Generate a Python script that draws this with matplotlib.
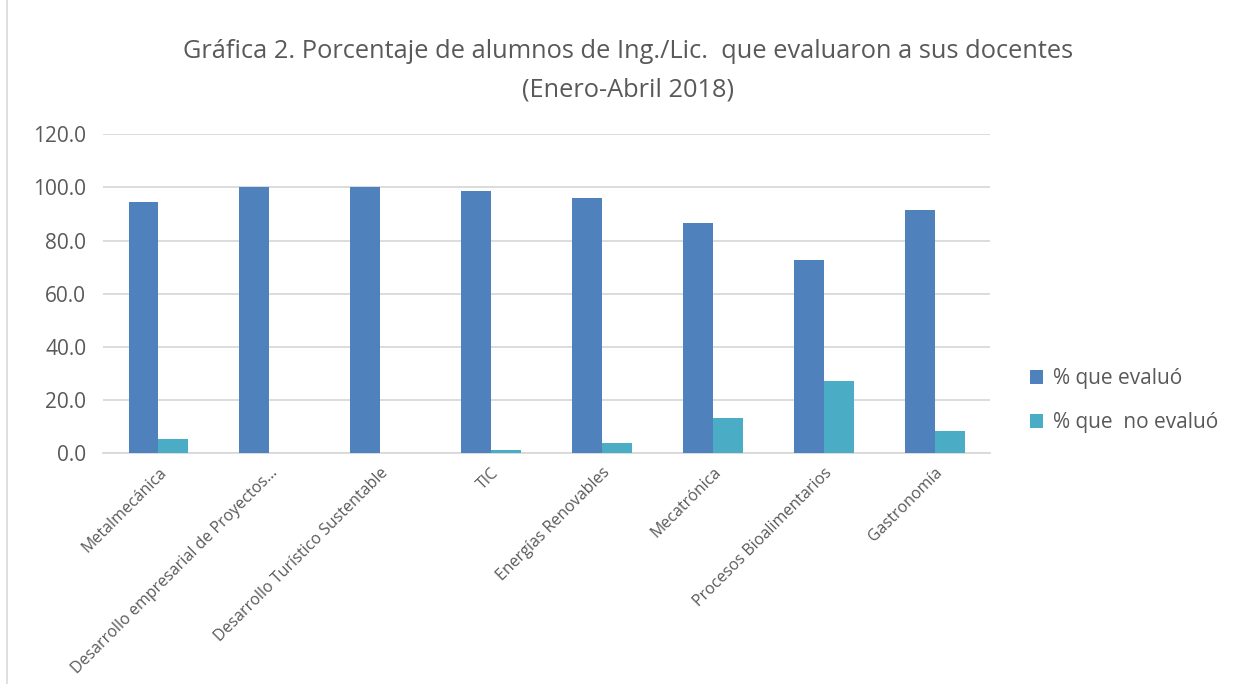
import matplotlib.pyplot as plt
import numpy as np
from matplotlib.patches import Rectangle

plt.rcParams['font.family'] = ['Open Sans', 'DejaVu Sans']

carreras = ["Metalmecánica", "Desarrollo empresarial de Proyectos…",
            "Desarrollo Turístico Sustentable", "TIC", "Energías Renovables",
            "Mecatrónica", "Procesos Bioalimentarios", "Gastronomía"]
evaluo = [94.4, 100.0, 100.0, 98.6, 96.0, 86.5, 72.7, 91.5]
no_evaluo = [5.6, 0.0, 0.0, 1.4, 4.0, 13.5, 27.3, 8.5]
series = ["% que evaluó", "% que  no evaluó"]

gris = "#595959"

fig = plt.figure(figsize=(12.41, 6.84), dpi=100)
ax = fig.add_axes([0.083, 0.337, 0.715, 0.467])

x = np.arange(len(carreras))
w = 0.27
ax.bar(x - w / 2, evaluo, w, color="#4f81bd", label=series[0], zorder=3)
ax.bar(x + w / 2, no_evaluo, w, color="#4bacc6", label=series[1], zorder=3)

ax.set_xlim(-0.5, len(carreras) - 0.5)
ax.set_ylim(0, 120)
ax.set_yticks(np.arange(0, 121, 20))
ax.set_yticklabels(["%.1f" % v for v in np.arange(0, 121, 20)], fontsize=15, color=gris)
ax.yaxis.grid(True, color="#d9d9d9", linewidth=1.3, zorder=0)
ax.set_xticks(x)
ax.set_xticklabels(carreras, rotation=45, ha="right", rotation_mode="anchor",
                   fontsize=11.5, color=gris)
ax.tick_params(axis="y", length=0, pad=12)
ax.tick_params(axis="x", length=0, pad=8)
for s in ["top", "right", "left"]:
    ax.spines[s].set_visible(False)
ax.spines["bottom"].set_color("#d9d9d9")
ax.spines["bottom"].set_linewidth(1.3)

fig.text(0.506, 0.925, "Gráfica 2. Porcentaje de alumnos de Ing./Lic.  que evaluaron a sus docentes",
         ha="center", va="center", fontsize=18.3, color=gris)
fig.text(0.506, 0.868, "(Enero-Abril 2018)", ha="center", va="center", fontsize=18.3, color=gris)

ax.legend(loc="center left", bbox_to_anchor=(1.024, 0.165), frameon=False, fontsize=15,
          labelcolor=gris, handlelength=0.6, handleheight=0.6, handletextpad=0.5,
          labelspacing=1.1)

fig.patches.append(Rectangle((0.006, -0.01), 1.1, 1.1, transform=fig.transFigure,
                             fill=False, edgecolor="#d9d9d9", linewidth=1.2))

fig.savefig("out.png", dpi=100)
